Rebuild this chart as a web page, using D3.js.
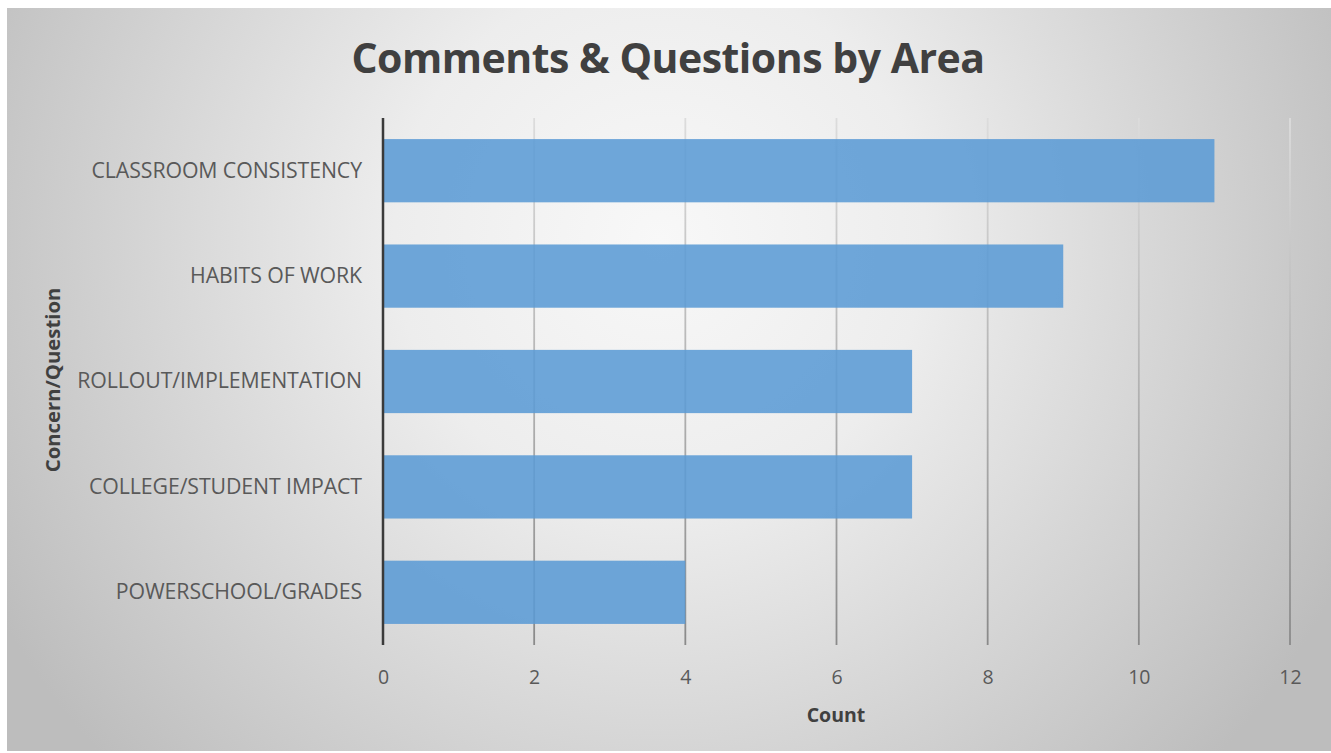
<!DOCTYPE html>
<html>
<head>
<meta charset="utf-8">
<script src="https://cdn.jsdelivr.net/npm/d3@7"></script>
<style>
  html, body { margin: 0; padding: 0; background: #ffffff; }
  svg { display: block; }
</style>
</head>
<body>
<svg id="chart" width="1331" height="753"></svg>
<script>
const categories = ["CLASSROOM CONSISTENCY", "HABITS OF WORK", "ROLLOUT/IMPLEMENTATION", "COLLEGE/STUDENT IMPACT", "POWERSCHOOL/GRADES"];
const counts = [11, 9, 7, 7, 4];
const xTicks = [0, 2, 4, 6, 8, 10, 12];
const titleText = "Comments & Questions by Area";
const xTitle = "Count";
const yTitle = "Concern/Question";

const svg = d3.select("#chart");
const W = 1331, H = 753;
const margin = { left: 383, right: 41, top: 118, bottom: 108 };

const defs = svg.append("defs");
const bg = defs.append("radialGradient").attr("id", "bgGrad")
  .attr("gradientUnits", "userSpaceOnUse")
  .attr("cx", 660).attr("cy", 240).attr("r", 760);
bg.append("stop").attr("offset", "0").attr("stop-color", "#f8f8f8");
bg.append("stop").attr("offset", "0.35").attr("stop-color", "#ededed");
bg.append("stop").attr("offset", "1").attr("stop-color", "#bdbdbd");

const gridGrad = defs.append("linearGradient").attr("id", "gridGrad")
  .attr("gradientUnits", "userSpaceOnUse")
  .attr("x1", 0).attr("y1", margin.top).attr("x2", 0).attr("y2", H - margin.bottom);
gridGrad.append("stop").attr("offset", "0").attr("stop-color", "#dcdcdc");
gridGrad.append("stop").attr("offset", "1").attr("stop-color", "#8a8a8a");

svg.append("rect").attr("x", 7).attr("y", 8).attr("width", W - 7).attr("height", 743)
  .attr("fill", "url(#bgGrad)");

const x = d3.scaleLinear().domain([0, 12]).range([margin.left, W - margin.right]);
const y = d3.scaleBand().domain(categories).range([margin.top, H - margin.bottom])
  .paddingInner(0.4).paddingOuter(0.2);

// gridlines
svg.append("g").selectAll("line").data(xTicks.filter(d => d > 0)).join("line")
  .attr("x1", d => x(d)).attr("x2", d => x(d))
  .attr("y1", margin.top).attr("y2", H - margin.bottom)
  .attr("stroke", "url(#gridGrad)").attr("stroke-width", 1.8);

// bars
svg.append("g").selectAll("rect").data(categories).join("rect")
  .attr("x", x(0) + 1)
  .attr("y", d => y(d))
  .attr("width", (d, i) => x(counts[i]) - x(0) - 1)
  .attr("height", y.bandwidth())
  .attr("fill", "#5b9bd5").attr("fill-opacity", 0.88);

// y axis line
svg.append("line").attr("x1", x(0)).attr("x2", x(0))
  .attr("y1", margin.top).attr("y2", H - margin.bottom)
  .attr("stroke", "#3a3a3a").attr("stroke-width", 2.5);

const fontFam = "'Open Sans', 'Noto Sans', sans-serif";

// x tick labels
const xAxis = d3.axisBottom(x).tickValues(xTicks).tickSize(0).tickPadding(0);
const gx = svg.append("g").attr("transform", `translate(0, 677)`).call(xAxis);
gx.select(".domain").remove();
gx.selectAll("text").attr("font-family", fontFam).attr("font-size", 19.5)
  .attr("fill", "#595959").attr("dy", "0.35em");

// y category labels
const yAxis = d3.axisLeft(y).tickSize(0).tickPadding(21);
const gy = svg.append("g").attr("transform", `translate(${x(0)}, 0)`).call(yAxis);
gy.select(".domain").remove();
gy.selectAll("text").attr("font-family", fontFam).attr("font-size", 21.3)
  .attr("fill", "#595959").attr("letter-spacing", "-0.1px");

// title
svg.append("text").attr("x", 668).attr("y", 73).attr("text-anchor", "middle")
  .attr("font-family", fontFam).attr("font-weight", "bold").attr("font-size", 41)
  .attr("letter-spacing", "-0.5px")
  .attr("fill", "#404040").text(titleText);

// axis titles
svg.append("text").attr("x", 836).attr("y", 722).attr("text-anchor", "middle")
  .attr("font-family", fontFam).attr("font-weight", "bold").attr("font-size", 19.5)
  .attr("fill", "#404040").text(xTitle);

svg.append("text").attr("transform", "translate(60, 380) rotate(-90)")
  .attr("text-anchor", "middle")
  .attr("font-family", fontFam).attr("font-weight", "bold").attr("font-size", 20.3)
  .attr("fill", "#404040").text(yTitle);
</script>
</body>
</html>
